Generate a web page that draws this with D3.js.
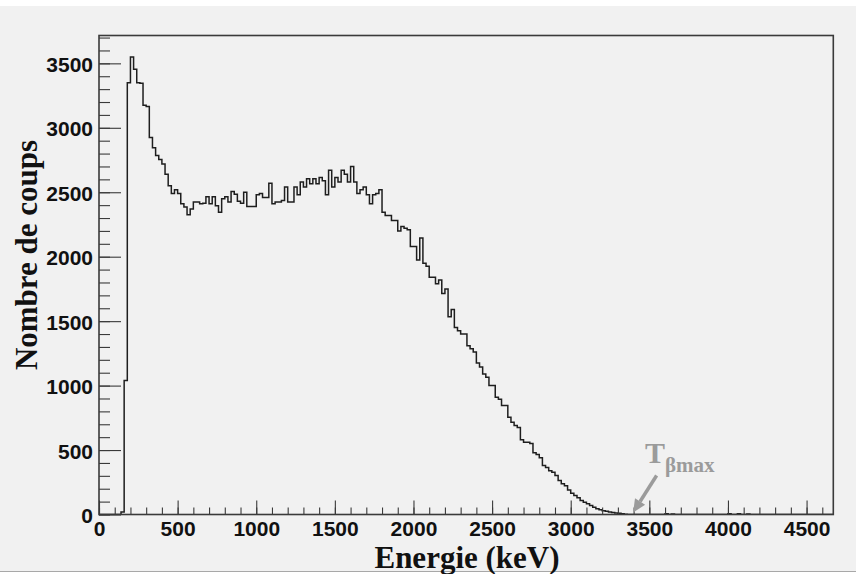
<!DOCTYPE html>
<html>
<head>
<meta charset="utf-8">
<script src="https://cdn.jsdelivr.net/npm/d3@7"></script>
<style>
  html, body { margin: 0; padding: 0; background: #ffffff; }
  svg { display: block; }
</style>
</head>
<body>
<svg id="chart" width="856" height="574"></svg>
<script>
// ---- data ----
const binStart = 0;      // keV
const binWidth = 20;     // keV
const counts = [
  0, 0, 0, 0, 0, 0, 0, 20, 1040, 3350,
  3550, 3455, 3350, 3345, 3175, 3165, 2925, 2845, 2785, 2755,
  2720, 2640, 2550, 2490, 2520, 2490, 2410, 2385, 2325, 2370,
  2425, 2425, 2410, 2415, 2465, 2410, 2465, 2395, 2345, 2450,
  2465, 2425, 2505, 2485, 2430, 2415, 2500, 2390, 2390, 2390,
  2480, 2490, 2460, 2460, 2570, 2410, 2425, 2425, 2435, 2540,
  2425, 2425, 2540, 2480, 2580, 2540, 2605, 2565, 2605, 2565,
  2615, 2590, 2480, 2670, 2540, 2615, 2580, 2670, 2640, 2580,
  2700, 2580, 2490, 2520, 2540, 2480, 2410, 2480, 2490, 2520,
  2345, 2320, 2320, 2280, 2280, 2200, 2235, 2220, 2210, 2080,
  2080, 1975, 2145, 1950, 1925, 1840, 1840, 1790, 1820, 1715,
  1750, 1535, 1590, 1450, 1425, 1400, 1400, 1310, 1285, 1260,
  1175, 1145, 1090, 1065, 1000, 1000, 910, 895, 845, 845,
  755, 715, 690, 675, 580, 560, 560, 550, 480, 465,
  440, 380, 365, 340, 328, 302, 264, 238, 224, 191,
  165, 147, 129, 109, 96, 83, 70, 56, 44, 36,
  30, 26, 20, 16, 12, 9, 5, 2, 0, 0,
  0, 0, 0, 0, 0, 0, 0, 0, 0, 0,
  6, 0, 4, 0, 0, 0, 0, 0, 0, 0,
  0, 0, 0, 0, 0, 0, 0, 0, 0, 0,
  5, 0, 0, 6, 0, 0, 4, 0, 0, 0,
  0, 0, 0, 0, 0, 0, 0, 0, 0, 0,
  0, 0, 0, 0, 0, 0, 0, 0, 0, 0,
  0, 0, 0, 0
];
const xDomain = [0, 4670];
const yDomain = [0, 3716];
const xMajorTicks = [0, 500, 1000, 1500, 2000, 2500, 3000, 3500, 4000, 4500];
const xMinorTicks = d3.range(0, 4601, 100);
const yMajorTicks = [0, 500, 1000, 1500, 2000, 2500, 3000, 3500];
const yMinorTicks = d3.range(0, 3701, 100);
const xTitle = "Energie (keV)";
const yTitle = "Nombre de coups";
const annotMain = "T";
const annotSub = "βmax";
const annotEnergy = 3400;   // arrow tip (keV)

(function () {
// ---- layout ----
const svg = d3.select("#chart");
const W = 856, H = 574;
const pL = 99, pR = 833.3, pT = 35.5, pB = 514.5;

svg.append("rect").attr("x", 0).attr("y", 6).attr("width", W).attr("height", 565)
  .attr("fill", "#f1f1f1");
svg.append("line").attr("x1", 0).attr("x2", W).attr("y1", 571.5).attr("y2", 571.5)
  .attr("stroke", "#a8a8a8").attr("stroke-width", 1);

const x = d3.scaleLinear().domain(xDomain).range([pL, pR]);
const y = d3.scaleLinear().domain(yDomain).range([pB, pT]);

// clip
svg.append("clipPath").attr("id", "plotclip")
  .append("rect").attr("x", pL).attr("y", pT - 2)
  .attr("width", pR - pL).attr("height", pB - pT + 2);

// histogram
const pts = counts.map((c, i) => [binStart + i * binWidth, c]);
pts.push([binStart + counts.length * binWidth, counts[counts.length - 1]]);
const line = d3.line().x(d => x(d[0])).y(d => y(d[1])).curve(d3.curveStepAfter);
svg.append("path")
  .attr("clip-path", "url(#plotclip)")
  .attr("d", line(pts))
  .attr("fill", "none")
  .attr("stroke", "#1e1e1e")
  .attr("stroke-width", 1.5)
  .attr("stroke-linejoin", "miter");

const tickFont = "'Liberation Sans', Arial, Helvetica, sans-serif";

// y axis minor
svg.append("g").attr("transform", `translate(${pL},0)`)
  .call(d3.axisLeft(y).tickValues(yMinorTicks).tickSize(-11).tickFormat(""))
  .call(g => g.select(".domain").remove())
  .call(g => g.selectAll("line").attr("stroke", "#3a3a3a").attr("stroke-width", 1.1));
// y axis major
svg.append("g").attr("transform", `translate(${pL},0)`)
  .call(d3.axisLeft(y).tickValues(yMajorTicks).tickSize(-22).tickPadding(6).tickFormat(d3.format("d")))
  .call(g => g.select(".domain").remove())
  .call(g => g.selectAll("line").attr("stroke", "#3a3a3a").attr("stroke-width", 1.1))
  .call(g => g.selectAll("text")
    .attr("font-family", tickFont).attr("font-weight", "bold")
    .attr("font-size", 21).attr("fill", "#111").attr("dy", "0.38em"));

// x axis minor
svg.append("g").attr("transform", `translate(0,${pB})`)
  .call(d3.axisBottom(x).tickValues(xMinorTicks).tickSize(-7).tickFormat(""))
  .call(g => g.select(".domain").remove())
  .call(g => g.selectAll("line").attr("stroke", "#3a3a3a").attr("stroke-width", 1.1));
// x axis major
svg.append("g").attr("transform", `translate(0,${pB})`)
  .call(d3.axisBottom(x).tickValues(xMajorTicks).tickSize(-14).tickPadding(7).tickFormat(d3.format("d")))
  .call(g => g.select(".domain").remove())
  .call(g => g.selectAll("line").attr("stroke", "#3a3a3a").attr("stroke-width", 1.1))
  .call(g => g.selectAll("text")
    .attr("font-family", tickFont).attr("font-weight", "bold")
    .attr("font-size", 21).attr("fill", "#111"));

// frame
svg.append("rect").attr("x", pL).attr("y", pT)
  .attr("width", pR - pL).attr("height", pB - pT)
  .attr("fill", "none").attr("stroke", "#3a3a3a").attr("stroke-width", 1.6);

const serif = "'Liberation Serif', 'Times New Roman', Times, serif";

// axis titles
svg.append("text").attr("x", 467).attr("y", 567.5)
  .attr("text-anchor", "middle")
  .attr("font-family", serif).attr("font-weight", "bold").attr("font-size", 31)
  .attr("fill", "#111").text(xTitle);

svg.append("text").attr("transform", "translate(37,255) rotate(-90)")
  .attr("text-anchor", "middle")
  .attr("font-family", serif).attr("font-weight", "bold").attr("font-size", 31)
  .attr("fill", "#111").text(yTitle);

// annotation
const grey = "#9b9b9b";
const tipX = x(annotEnergy) - 0.5, tipY = y(0) - 2;
const tailX = tipX + 23.5, tailY = tipY - 37;
const ang = Math.atan2(tipY - tailY, tipX - tailX);
const headLen = 13, headW = 6;
const bx = tipX - headLen * Math.cos(ang), by = tipY - headLen * Math.sin(ang);
svg.append("line").attr("x1", tailX).attr("y1", tailY).attr("x2", bx).attr("y2", by)
  .attr("stroke", grey).attr("stroke-width", 3.5);
svg.append("path")
  .attr("d", `M${tipX},${tipY} L${bx + headW * Math.sin(ang)},${by - headW * Math.cos(ang)} L${bx - headW * Math.sin(ang)},${by + headW * Math.cos(ang)} Z`)
  .attr("fill", grey);

const annot = svg.append("text").attr("x", 645).attr("y", 463)
  .attr("font-family", serif).attr("font-weight", "bold").attr("fill", grey);
annot.append("tspan").attr("font-size", 30).text(annotMain);
annot.append("tspan").attr("font-size", 21).attr("dy", 8.5).text(annotSub);
})();
</script>
</body>
</html>
